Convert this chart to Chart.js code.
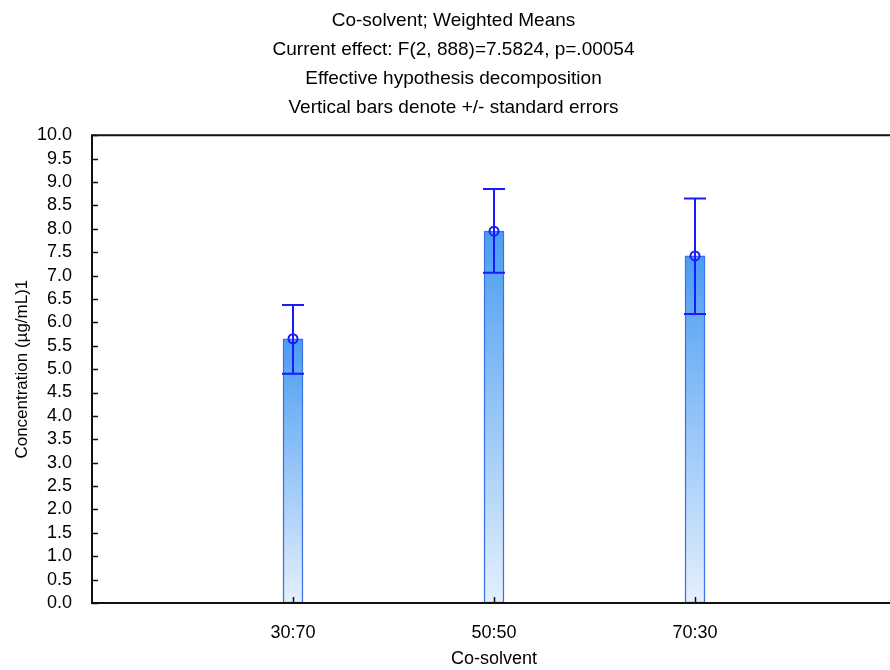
<!DOCTYPE html>
<html>
<head>
<meta charset="utf-8">
<script src="https://cdn.jsdelivr.net/npm/chart.js@4/dist/chart.umd.min.js"></script>
<style>
    html, body { margin: 0; padding: 0; background: #fff; overflow: hidden; }
    #wrap { width: 907px; height: 670px; }
</style>
</head>
<body>
<div id="wrap"><canvas id="chart" width="907" height="670"></canvas></div>
<script>
const categories = ['30:70', '50:50', '70:30'];
const means = [5.65, 7.95, 7.42];
const upperSE = [6.37, 8.85, 8.65];
const lowerSE = [4.90, 7.06, 6.18];
const titleLines = [
    'Co-solvent; Weighted Means',
    'Current effect: F(2, 888)=7.5824, p=.00054',
    'Effective hypothesis decomposition',
    'Vertical bars denote +/- standard errors'
];

const FONT = '"Liberation Sans", Arial, sans-serif';
const BLUE = '#1a1aff';

// bars sit on a linear axis 0..4, categories at 1, 2, 3
const barData = means.map((m, i) => ({x: i + 1, y: m}));

function barGradient(context) {
    const chart = context.chart;
    const area = chart.chartArea;
    if (!area) return '#8cc4f8';
    const top = chart.scales.y.getPixelForValue(means[context.dataIndex]);
    const g = chart.ctx.createLinearGradient(0, top, 0, area.bottom);
    g.addColorStop(0, '#4a9cf2');
    g.addColorStop(1, '#e4f0fd');
    return g;
}

const decorations = {
    id: 'decorations',
    afterDatasetsDraw(chart) {
        const c = chart.ctx;
        const x = chart.scales.x;
        const y = chart.scales.y;
        const a = chart.chartArea;

        // error bars
        c.save();
        c.strokeStyle = BLUE;
        c.lineWidth = 2;
        means.forEach((m, i) => {
            const px = x.getPixelForValue(i + 1);
            const yt = y.getPixelForValue(upperSE[i]);
            const yb = y.getPixelForValue(lowerSE[i]);
            c.beginPath();
            c.moveTo(px, yt); c.lineTo(px, yb);
            c.moveTo(px - 11, yt); c.lineTo(px + 11, yt);
            c.moveTo(px - 11, yb); c.lineTo(px + 11, yb);
            c.stroke();
        });
        c.restore();

        // frame and inward ticks
        c.save();
        c.strokeStyle = '#111';
        c.lineWidth = 2;
        c.beginPath();
        c.rect(a.left, a.top, a.right - a.left, a.bottom - a.top);
        c.stroke();
        c.lineWidth = 1.5;
        c.beginPath();
        for (let v = 0; v <= 10.001; v += 0.5) {
            const py = Math.round(y.getPixelForValue(v)) + 0.5;
            c.moveTo(a.left, py); c.lineTo(a.left + 6, py);
        }
        categories.forEach((_, i) => {
            const px = Math.round(x.getPixelForValue(i + 1)) + 0.5;
            c.moveTo(px, a.bottom); c.lineTo(px, a.bottom - 6);
        });
        c.stroke();
        c.restore();
    }
};

new Chart(document.getElementById('chart'), {
    type: 'bar',
    data: {
        datasets: [{
            type: 'scatter',
            data: barData,
            pointStyle: 'circle',
            pointRadius: 4.5,
            borderColor: BLUE,
            borderWidth: 2,
            backgroundColor: 'rgba(0,0,0,0)',
            order: 0
        }, {
            data: barData,
            backgroundColor: barGradient,
            borderColor: '#3a72e6',
            borderWidth: 1.5,
            borderSkipped: false,
            barThickness: 20,
            order: 1
        }]
    },
    options: {
        responsive: false,
        animation: false,
        layout: {padding: 0},
        plugins: {
            legend: {display: false},
            tooltip: {enabled: false},
            title: {
                display: true,
                text: titleLines,
                color: '#000',
                font: {family: FONT, size: 19, weight: 'normal', lineHeight: 1.53},
                padding: {top: 6, bottom: 13}
            }
        },
        scales: {
            x: {
                type: 'linear',
                min: 0,
                max: 4,
                offset: false,
                afterFit: (s) => { s.height = 67; },
                grid: {display: false},
                border: {display: false},
                ticks: {
                    stepSize: 1,
                    autoSkip: false,
                    maxRotation: 0,
                    padding: 11,
                    color: '#000',
                    font: {family: FONT, size: 18},
                    callback: (v) => categories[v - 1] || ''
                },
                title: {
                    display: true,
                    text: 'Co-solvent',
                    color: '#000',
                    font: {family: FONT, size: 18},
                    padding: {top: 0, bottom: 0}
                }
            },
            y: {
                min: 0,
                max: 10,
                afterFit: (s) => { s.width = 92; },
                grid: {display: false},
                border: {display: false},
                ticks: {
                    stepSize: 0.5,
                    autoSkip: false,
                    padding: 12,
                    color: '#000',
                    font: {family: FONT, size: 18},
                    callback: (v) => v.toFixed(1)
                },
                title: {
                    display: true,
                    text: 'Concentration (µg/mL)1',
                    color: '#000',
                    font: {family: FONT, size: 17},
                    padding: {top: 12, bottom: 0}
                }
            }
        }
    },
    plugins: [decorations]
});
</script>
</body>
</html>
